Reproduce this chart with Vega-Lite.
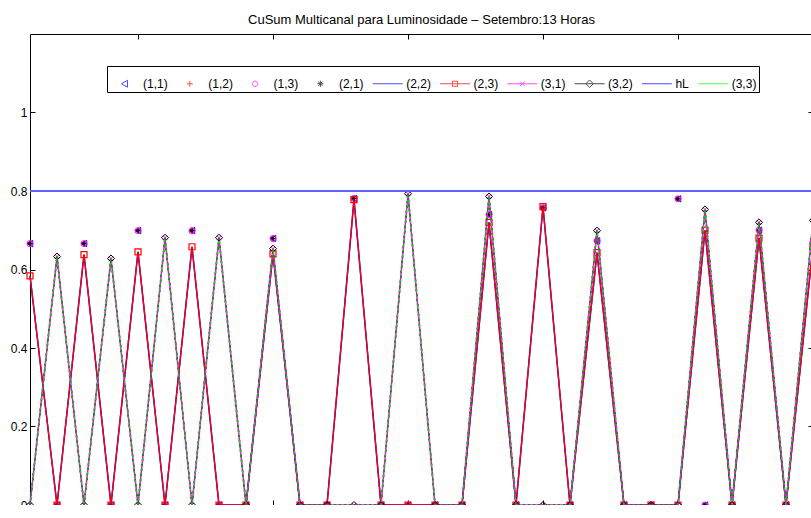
{
  "$schema": "https://vega.github.io/schema/vega-lite/v6.json",
  "width": 783,
  "height": 471,
  "autosize": {"type": "none"},
  "padding": {"left": 30, "top": 34, "right": 0, "bottom": 0},
  "background": "white",
  "title": {"text": "CuSum Multicanal para Luminosidade – Setembro:13 Horas", "fontSize": 13, "font": "Liberation Sans", "fontWeight": "normal", "color": "black", "anchor": "middle", "baseline": "alphabetic", "offset": -3},
  "config": {"view": {"stroke": "black", "strokeWidth": 1}, "font": "Liberation Sans"},
  "datasets": {
    "d": [
      {"x": 1, "m": 0.666, "r": 0.584, "g": 0},
      {"x": 2, "m": 0, "r": 0, "g": 0.633},
      {"x": 3, "m": 0.666, "r": 0.638, "g": 0},
      {"x": 4, "m": 0, "r": 0, "g": 0.628},
      {"x": 5, "m": 0.699, "r": 0.645, "g": 0},
      {"x": 6, "m": 0, "r": 0, "g": 0.681},
      {"x": 7, "m": 0.699, "r": 0.658, "g": 0},
      {"x": 8, "m": 0, "r": 0, "g": 0.681},
      {"x": 9, "m": 0, "r": 0, "g": 0},
      {"x": 10, "m": 0.679, "r": 0.64, "g": 0.653},
      {"x": 11, "m": 0, "r": 0, "g": 0},
      {"x": 12, "m": 0, "r": 0, "g": 0},
      {"x": 13, "m": 0.781, "r": 0.778, "g": 0},
      {"x": 14, "m": 0, "r": 0, "g": 0},
      {"x": 15, "m": 0, "r": 0, "g": 0.793},
      {"x": 16, "m": 0, "r": 0, "g": 0},
      {"x": 17, "m": 0, "r": 0, "g": 0},
      {"x": 18, "m": 0.74, "r": 0.72, "g": 0.786},
      {"x": 19, "m": 0, "r": 0, "g": 0},
      {"x": 20, "m": 0.757, "r": 0.76, "g": 0},
      {"x": 21, "m": 0, "r": 0, "g": 0},
      {"x": 22, "m": 0.673, "r": 0.643, "g": 0.699},
      {"x": 23, "m": 0, "r": 0, "g": 0},
      {"x": 24, "m": 0, "r": 0, "g": 0},
      {"x": 25, "m": 0.78, "r": 0, "g": 0},
      {"x": 26, "m": 0, "r": 0.7, "g": 0.753},
      {"x": 27, "m": 0, "r": 0, "g": 0},
      {"x": 28, "m": 0.7, "r": 0.68, "g": 0.72},
      {"x": 29, "m": 0, "r": 0, "g": 0},
      {"x": 30, "m": 0.67, "r": 0.66, "g": 0.725}
    ]
  },
  "data": {"name": "d"},
  "layer": [
    {
      "transform": [{"filter": "false"}],
      "mark": {"type": "point", "filled": false, "size": 900, "strokeWidth": 1},
      "encoding": {
        "x": {"field": "x", "type": "quantitative", "scale": {"domain": [1, 30], "nice": false, "zero": false},
              "axis": {"orient": "bottom", "values": [5, 10, 15, 20, 25, 30], "tickSize": -5, "tickColor": "black", "labelPadding": 9, "labelFontSize": 12, "labelColor": "black", "labelFont": "Liberation Sans", "domain": false, "grid": false, "title": null, "labelFlush": false, "labelOverlap": false}},
        "y": {"field": "m", "type": "quantitative", "scale": {"domain": [0, 1.2], "nice": false},
              "axis": {"orient": "left", "values": [0, 0.2, 0.4, 0.6, 0.8, 1], "format": "~g", "tickSize": -5, "tickColor": "black", "labelPadding": 8, "labelFontSize": 12, "labelColor": "black", "labelFont": "Liberation Sans", "domain": false, "grid": false, "title": null, "labelFlush": false, "labelOverlap": false}},
        "color": {"field": "s", "type": "nominal",
                  "scale": {"domain": ["(1,1)", "(1,2)", "(1,3)", "(2,1)", "(2,2)", "(2,3)", "(3,1)", "(3,2)", "hL", "(3,3)"],
                            "range": ["#0000ff", "#ff0000", "#ff00ff", "#000000", "#0000ff", "#ff0000", "#ff00ff", "#000000", "#0000ff", "#00ff00"]},
                  "legend": {"orient": "none", "legendX": 77, "legendY": 32, "direction": "horizontal", "columns": 10, "title": null,
                             "symbolSize": 900, "symbolStrokeWidth": 1, "labelFontSize": 12, "labelFont": "Liberation Sans", "labelColor": "black",
                             "strokeColor": "black", "fillColor": "white", "padding": 2, "columnPadding": 6.3, "labelOffset": 3, "rowPadding": 0}},
        "shape": {"field": "s", "type": "nominal",
                  "scale": {"domain": ["(1,1)", "(1,2)", "(1,3)", "(2,1)", "(2,2)", "(2,3)", "(3,1)", "(3,2)", "hL", "(3,3)"],
                            "range": [
                              "M-0.2,0L0.2,-0.23L0.2,0.23Z",
                              "M-0.2,0H0.2M0,-0.2V0.2",
                              "M-0.18,0A0.18,0.18,0,1,0,0.18,0A0.18,0.18,0,1,0,-0.18,0Z",
                              "M-0.2,0H0.2M0,-0.2V0.2M-0.14,-0.14L0.14,0.14M-0.14,0.14L0.14,-0.14",
                              "M-1,0H1",
                              "M-1,0H1M-0.17,-0.17H0.17V0.17H-0.17Z",
                              "M-1,0H1M-0.15,-0.15L0.15,0.15M-0.15,0.15L0.15,-0.15",
                              "M-1,0H1M-0.25,0L0,-0.25L0.25,0L0,0.25Z",
                              "M-1,0H1",
                              "M-1,0H1"
                            ]},
                  "legend": null}
      }
    },
    {
      "transform": [{"filter": "false"}],
      "mark": {"type": "point"},
      "encoding": {
        "x": {"field": "x", "type": "quantitative", "axis": {"orient": "top", "values": [5, 10, 15, 20, 25, 30], "tickSize": -5, "tickColor": "black", "labels": false, "domain": false, "grid": false, "title": null}},
        "y": {"field": "m", "type": "quantitative", "axis": {"orient": "right", "values": [0, 0.2, 0.4, 0.6, 0.8, 1], "tickSize": -5, "tickColor": "black", "labels": false, "domain": false, "grid": false, "title": null}}
      }
    },
    {
      "mark": {"type": "point", "shape": "triangle-left", "filled": false, "size": 40, "color": "#0000ff", "strokeWidth": 1, "opacity": 1},
      "encoding": {"x": {"field": "x", "type": "quantitative", "axis": null}, "y": {"field": "m", "type": "quantitative", "axis": null}}
    },
    {
      "mark": {"type": "point", "shape": "M-1,0H1M0,-1V1", "filled": false, "size": 30, "color": "#ff0000", "strokeWidth": 1, "opacity": 1},
      "encoding": {"x": {"field": "x", "type": "quantitative", "axis": null}, "y": {"field": "m", "type": "quantitative", "axis": null}}
    },
    {
      "mark": {"type": "point", "shape": "circle", "filled": false, "size": 36, "color": "#ff00ff", "strokeWidth": 1, "opacity": 1},
      "encoding": {"x": {"field": "x", "type": "quantitative", "axis": null}, "y": {"field": "m", "type": "quantitative", "axis": null}}
    },
    {
      "mark": {"type": "point", "shape": "M-1,0H1M0,-1V1M-0.7,-0.7L0.7,0.7M-0.7,0.7L0.7,-0.7", "filled": false, "size": 20, "color": "#000000", "strokeWidth": 1, "opacity": 1},
      "encoding": {"x": {"field": "x", "type": "quantitative", "axis": null}, "y": {"field": "m", "type": "quantitative", "axis": null}}
    },
    {
      "mark": {"type": "line", "color": "#0000ff", "strokeWidth": 1.5},
      "encoding": {"x": {"field": "x", "type": "quantitative", "axis": null}, "y": {"field": "r", "type": "quantitative", "axis": null}}
    },
    {
      "mark": {"type": "line", "color": "#ff0000", "strokeWidth": 1.3},
      "encoding": {"x": {"field": "x", "type": "quantitative", "axis": null}, "y": {"field": "r", "type": "quantitative", "axis": null}}
    },
    {
      "mark": {"type": "point", "shape": "square", "filled": false, "size": 36, "color": "#ff0000", "strokeWidth": 1.2, "opacity": 1},
      "encoding": {"x": {"field": "x", "type": "quantitative", "axis": null}, "y": {"field": "r", "type": "quantitative", "axis": null}}
    },
    {
      "mark": {"type": "line", "color": "#ff00ff", "strokeWidth": 1.5},
      "encoding": {"x": {"field": "x", "type": "quantitative", "axis": null}, "y": {"field": "g", "type": "quantitative", "axis": null}}
    },
    {
      "mark": {"type": "point", "shape": "M-1,-1L1,1M-1,1L1,-1", "filled": false, "size": 16, "color": "#ff00ff", "strokeWidth": 1, "opacity": 1},
      "encoding": {"x": {"field": "x", "type": "quantitative", "axis": null}, "y": {"field": "g", "type": "quantitative", "axis": null}}
    },
    {
      "mark": {"type": "line", "color": "#000000", "strokeWidth": 1.5, "strokeDash": [2, 3]},
      "encoding": {"x": {"field": "x", "type": "quantitative", "axis": null}, "y": {"field": "g", "type": "quantitative", "axis": null}}
    },
    {
      "mark": {"type": "point", "shape": "diamond", "filled": false, "size": 50, "color": "#000000", "strokeWidth": 1, "opacity": 1},
      "encoding": {"x": {"field": "x", "type": "quantitative", "axis": null}, "y": {"field": "g", "type": "quantitative", "axis": null}}
    },
    {
      "mark": {"type": "rule", "color": "#6262ff", "strokeWidth": 1.5},
      "encoding": {"y": {"datum": 0.8, "type": "quantitative", "axis": null}}
    },
    {
      "mark": {"type": "line", "color": "#00e000", "strokeWidth": 1.2, "strokeDash": [3, 2]},
      "encoding": {"x": {"field": "x", "type": "quantitative", "axis": null}, "y": {"field": "g", "type": "quantitative", "axis": null}}
    }
  ],
  "resolve": {"axis": {"x": "independent", "y": "independent"}}
}
